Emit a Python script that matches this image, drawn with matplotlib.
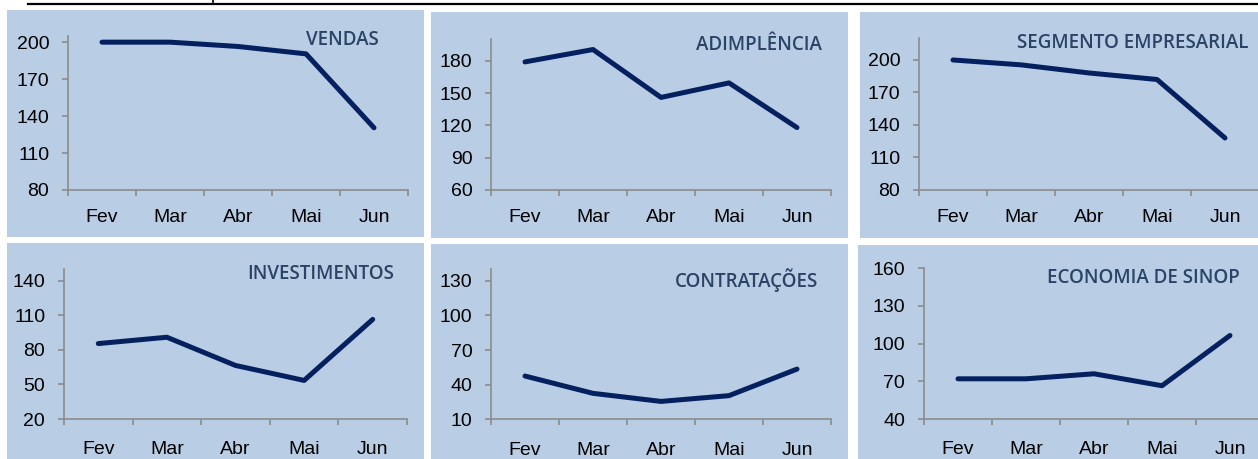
import matplotlib
matplotlib.use("Agg")
import matplotlib.pyplot as plt
from matplotlib.patches import Rectangle
from matplotlib.lines import Line2D

months = ["Fev", "Mar", "Abr", "Mai", "Jun"]

titles = ["VENDAS", "ADIMPLÊNCIA", "SEGMENTO EMPRESARIAL",
          "INVESTIMENTOS", "CONTRATAÇÕES", "ECONOMIA DE SINOP"]

vendas = [200, 200, 196.5, 190.5, 130.5]
adimplencia = [179, 190.5, 146, 159.5, 118]
segmento = [200, 195.5, 188, 182, 128]
investimentos = [85.5, 91, 66.5, 53.5, 106.5]
contratacoes = [47.5, 32.5, 25.5, 30.5, 53.5]
economia = [72, 72, 76, 66.5, 106.5]

series = [vendas, adimplencia, segmento, investimentos, contratacoes, economia]

y_min = [80, 60, 80, 20, 10, 40]
y_max = [205, 200, 220, 150, 140, 160]
y_tick_top = [200, 180, 200, 140, 130, 160]

W, H = 1258, 459
fig = plt.figure(figsize=(W / 100, H / 100), dpi=100)
fig.patch.set_facecolor("white")

BG = "#B9CDE5"
LINE = "#04205E"
TITLE = "#2B4466"
AXC = "#8C8C8C"

# panel backgrounds (x0, y0, x1, y1) in pixels from top-left
panels = [(7, 10, 424, 237), (431, 12, 848, 238), (860, 12, 1258, 238),
          (7, 243, 424, 459), (431, 244, 848, 459), (858, 245, 1258, 459)]
for x0, y0, x1, y1 in panels:
    fig.patches.append(Rectangle((x0 / W, 1 - y1 / H), (x1 - x0) / W, (y1 - y0) / H,
                                 transform=fig.transFigure, facecolor=BG,
                                 edgecolor="none", zorder=-5))

# top rule
fig.add_artist(Line2D([28 / W, 1.0], [1 - 4 / H, 1 - 4 / H], color="black",
                      lw=1.6, transform=fig.transFigure))
fig.add_artist(Line2D([213 / W, 213 / W], [1 - 4 / H, 1.0], color="black",
                      lw=1.2, transform=fig.transFigure))

# axes rectangles: left, right, top, bottom (pixels)
axes_px = [(68, 408, 36, 190), (491, 831, 39.3, 190), (919, 1259, 38.3, 190),
           (64, 407, 269.3, 419), (491, 831, 269.3, 419.3), (924, 1264, 268.3, 419)]

title_pos = [(379, 39.7), (822, 44.8), (1248, 42.8),
             (394, 273.7), (818, 280), (1240, 278)]

x = [1, 2, 3, 4, 5]
for i in range(6):
    l, r, t, b = axes_px[i]
    ax = fig.add_axes([l / W, 1 - b / H, (r - l) / W, (b - t) / H])
    ax.set_zorder(2)
    ax.patch.set_alpha(0)
    ax.plot(x, series[i], color=LINE, lw=3.6, solid_capstyle="round",
            solid_joinstyle="round", zorder=3)
    ax.set_xlim(0.5, 5.5)
    ax.set_ylim(y_min[i], y_max[i])
    ax.set_yticks(list(range(y_min[i], y_tick_top[i] + 1, 30)))
    ax.set_xticks([0.5, 1.5, 2.5, 3.5, 4.5, 5.5])
    ax.set_xticklabels([])
    ax.set_xticks(x, minor=True)
    ax.set_xticklabels(months, minor=True)
    for s in ["top", "right"]:
        ax.spines[s].set_visible(False)
    for s in ["left", "bottom"]:
        ax.spines[s].set_color(AXC)
        ax.spines[s].set_linewidth(1.2)
    ax.tick_params(axis="y", which="major", length=4.5, width=1.2, color=AXC,
                   labelsize=14, pad=9, labelcolor="black")
    ax.tick_params(axis="x", which="major", length=4.5, width=1.2, color=AXC)
    ax.tick_params(axis="x", which="minor", length=0, labelsize=14,
                   pad=13.5 if i < 3 else 16, labelcolor="black")
    for lab in ax.get_yticklabels() + ax.get_xticklabels(minor=True):
        lab.set_fontfamily("Liberation Sans")
    tx, ty = title_pos[i]
    fig.text(tx / W, 1 - ty / H, titles[i], ha="right", va="center",
             fontsize=13.5, color=TITLE, family="Open Sans", fontweight="semibold",
             zorder=3)

fig.savefig("out.png", dpi=100, facecolor="white")
